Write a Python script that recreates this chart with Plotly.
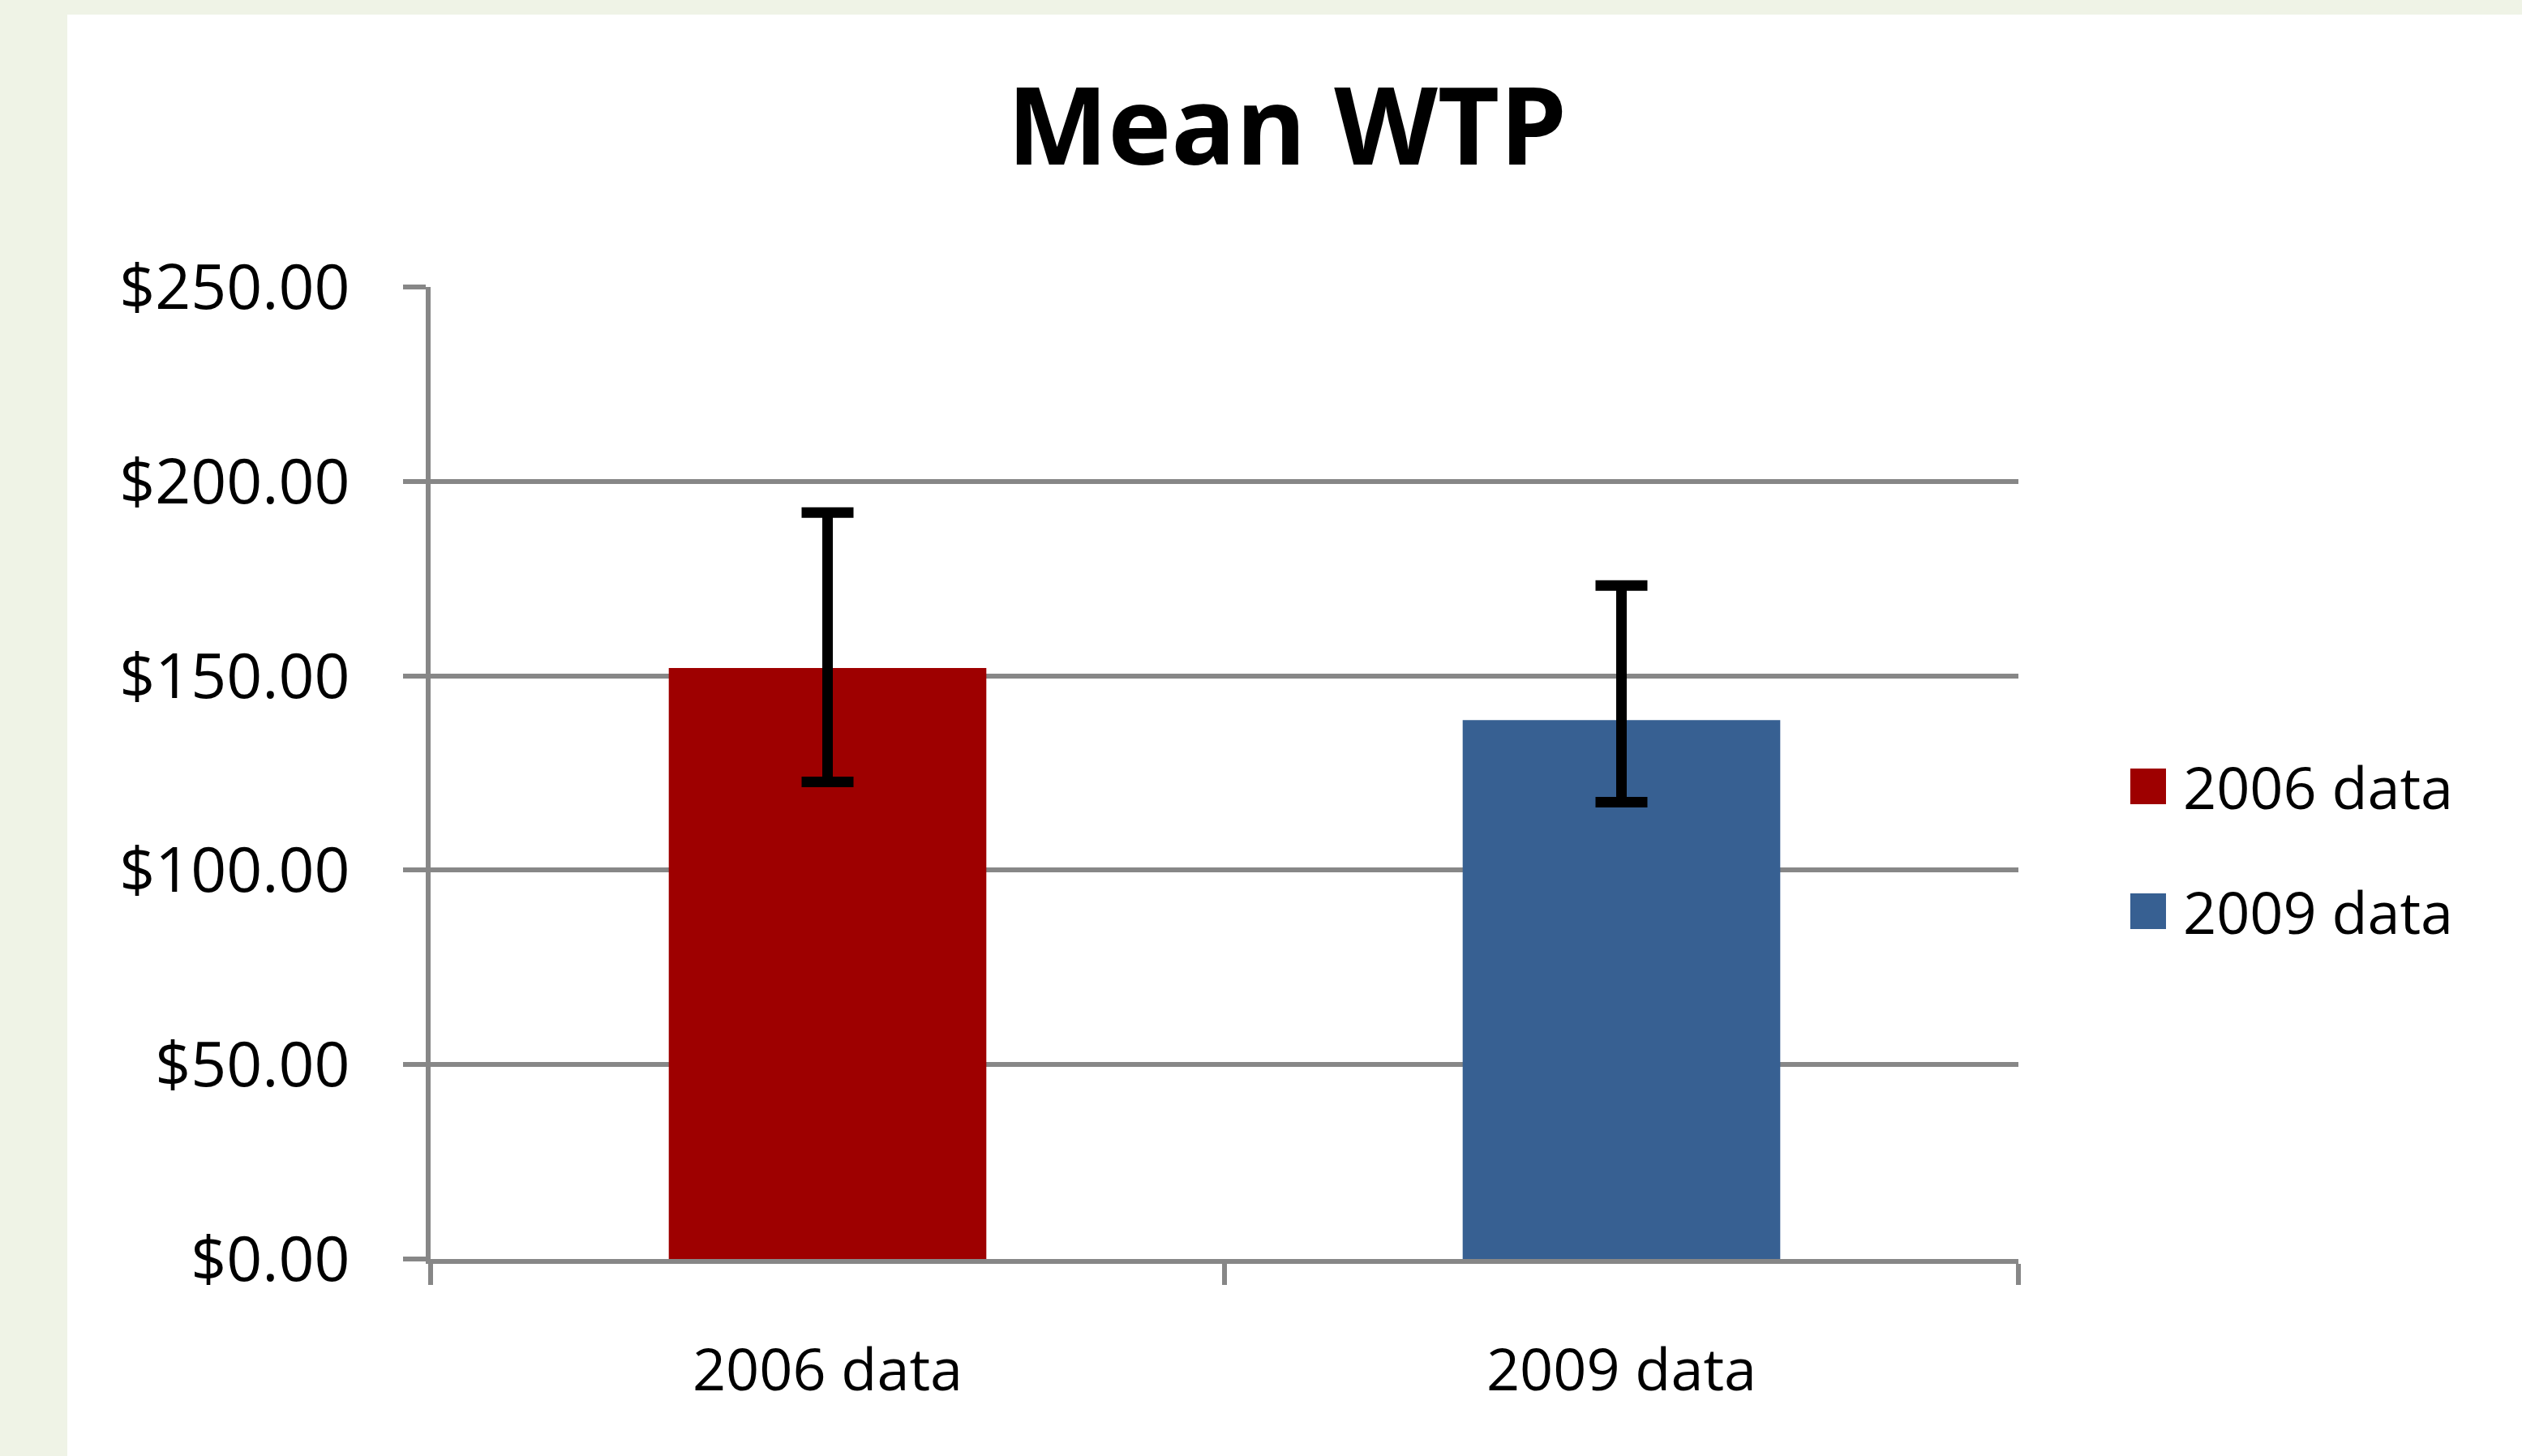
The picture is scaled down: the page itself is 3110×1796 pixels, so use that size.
import plotly.graph_objects as go

# ---- data ----
categories = ["2006 data", "2009 data"]
mean_wtp = [152.0, 138.6]
err_plus = [40.0, 34.6]
err_minus = [29.3, 21.1]
y_ticks = [0, 50, 100, 150, 200, 250]
y_tick_labels = ["$" + format(v, ".2f") for v in y_ticks]

# ---- styles ----
bar_colors = ["#9E0000", "#376092"]
W, H = 3110, 1796
L, R, T, B = 531, 3110 - 2489, 354, 1796 - 1553
FONT = "Open Sans"
GRID = "#878787"

pw = W - L - R
ph = H - T - B

def px_x(px):
    return (px - L) / pw

def px_y(py):
    return (H - B - py) / ph

fig = go.Figure()
for i, cat in enumerate(categories):
    fig.add_trace(go.Bar(
        x=[cat], y=[mean_wtp[i]], name=cat,
        marker=dict(color=bar_colors[i], line=dict(width=0)),
        width=0.4,
        error_y=dict(type="data", symmetric=False,
                     array=[err_plus[i]], arrayminus=[err_minus[i]],
                     color="#000000", thickness=13, width=32),
        showlegend=False,
    ))

shapes = [
    # white chart area on light green page
    dict(type="rect", xref="paper", yref="paper", layer="below",
         x0=px_x(83), x1=px_x(W + 20), y0=px_y(H + 20), y1=px_y(18),
         fillcolor="white", line=dict(width=0)),
]
annotations = []
leg_y = [970, 1124]
for i, cat in enumerate(categories):
    cy = leg_y[i]
    shapes.append(dict(type="rect", xref="paper", yref="paper",
                       x0=px_x(2627), x1=px_x(2671),
                       y0=px_y(cy + 22), y1=px_y(cy - 22),
                       fillcolor=bar_colors[i], line=dict(width=0)))
    annotations.append(dict(text=cat, xref="paper", yref="paper",
                            x=px_x(2690), y=px_y(cy), xanchor="left",
                            yanchor="middle", showarrow=False,
                            font=dict(family=FONT, size=72, color="#000000")))

fig.update_layout(
    width=W, height=H,
    margin=dict(l=L, r=R, t=T, b=B, pad=0),
    paper_bgcolor="#EFF3E6",
    plot_bgcolor="white",
    barmode="overlay",
    title=dict(text="<b>Mean WTP</b>", x=1587 / W, xanchor="center",
               y=1 - 157 / H, yanchor="middle", xref="container", yref="container",
               font=dict(family=FONT, size=132, color="#000000")),
    font=dict(family=FONT, size=72, color="#000000"),
    shapes=shapes,
    annotations=annotations,
    showlegend=False,
)
fig.update_xaxes(
    type="category", tickson="boundaries", ticks="outside", ticklen=26,
    tickwidth=6, tickcolor=GRID, showline=True, linecolor=GRID, linewidth=6,
    showgrid=False, ticklabelstandoff=70,
    tickfont=dict(family=FONT, size=72, color="#000000"),
)
fig.update_yaxes(
    range=[0, 250], tickvals=y_ticks, ticktext=y_tick_labels,
    ticks="outside", ticklen=28, tickwidth=6, tickcolor=GRID,
    showline=True, linecolor=GRID, linewidth=6,
    showgrid=True, gridcolor=GRID, gridwidth=6, zeroline=False,
    ticklabelstandoff=50,
    tickfont=dict(family=FONT, size=77, color="#000000"),
)
fig.write_html("out.html", config={"displayModeBar": False},
               post_script="document.body.style.margin='0';document.body.style.overflow='hidden';")
